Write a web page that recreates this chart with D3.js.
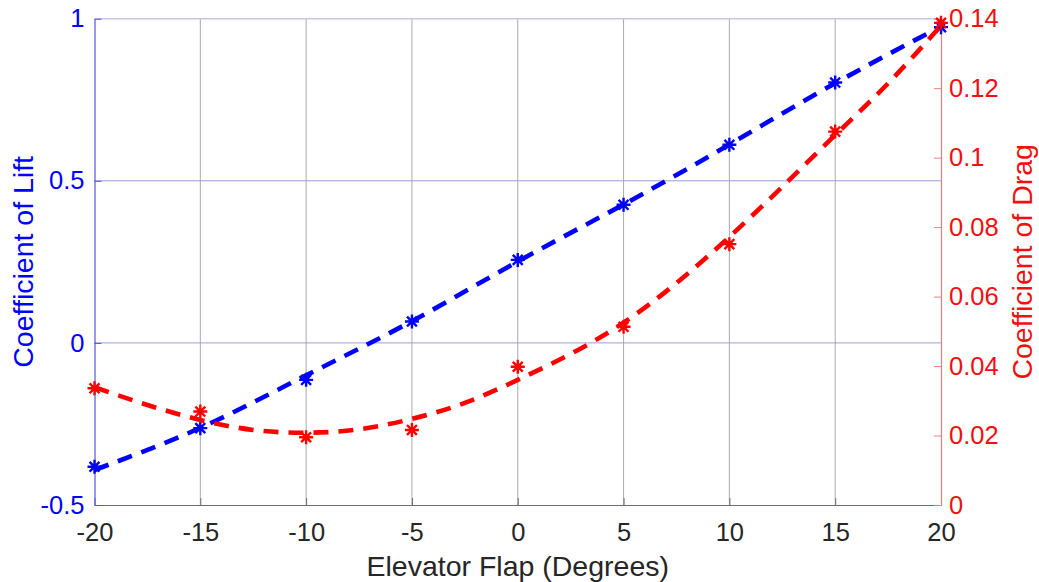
<!DOCTYPE html>
<html>
<head>
<meta charset="utf-8">
<script src="https://cdn.jsdelivr.net/npm/d3@7"></script>
<style>
  html, body { margin: 0; padding: 0; background: #ffffff; }
  svg { display: block; font-family: "Liberation Sans", Arial, Helvetica, sans-serif; }
</style>
</head>
<body>
<svg id="chart" width="1039" height="582"></svg>
<script>
// Elevator flap sweep: measured coefficients and their fitted trends
const flap = [-20, -15, -10, -5, 0, 5, 10, 15, 20];
const liftMeasured = [-0.382, -0.263, -0.114, 0.066, 0.256, 0.426, 0.611, 0.803, 0.974];
const dragMeasured = [0.0336, 0.0269, 0.0195, 0.0216, 0.0398, 0.0513, 0.0751, 0.1075, 0.1388];

// fitted trend curves
const liftFitFlap = [-20, -15, -10, -5, 0, 5, 10, 15, 20];
const liftFit = [-0.392, -0.262, -0.100, 0.067, 0.251, 0.427, 0.612, 0.801, 0.976];
const dragFitFlap = [-20, -17.5, -15, -12.5, -10, -7.5, -5, -2.5, 0, 2.5, 5, 7.5, 10, 12.5, 15, 17.5, 20];
const dragFit = [0.0339, 0.0288, 0.0245, 0.0216, 0.0208, 0.0218, 0.0248, 0.0294, 0.0360, 0.0435,
                 0.0525, 0.0639, 0.0772, 0.0916, 0.1065, 0.1214, 0.1380];

// axis ticks
const xTicks = [-20, -15, -10, -5, 0, 5, 10, 15, 20];
const xTickLabels = ["-20", "-15", "-10", "-5", "0", "5", "10", "15", "20"];
const liftTicks = [-0.5, 0, 0.5, 1];
const liftTickLabels = ["-0.5", "0", "0.5", "1"];
const dragTicks = [0, 0.02, 0.04, 0.06, 0.08, 0.1, 0.12, 0.14];
const dragTickLabels = ["0", "0.02", "0.04", "0.06", "0.08", "0.1", "0.12", "0.14"];

const BLUE = "#0000ff";
const RED = "#ff0000";
const DARK = "#262626";

const plot = { left: 94.5, right: 941, top: 18.7, bottom: 505 };
const svg = d3.select("#chart");

svg.append("rect").attr("width", 1039).attr("height", 582).attr("fill", "#ffffff");

const x = d3.scaleLinear().domain([-20, 20]).range([plot.left, plot.right]);
const yL = d3.scaleLinear().domain([-0.5, 1]).range([plot.bottom, plot.top]);
const yR = d3.scaleLinear().domain([0, 0.14]).range([plot.bottom, plot.top]);

// grid
const grid = svg.append("g");
grid.selectAll("line.v").data(xTicks.slice(1, -1)).join("line")
  .attr("x1", d => x(d)).attr("x2", d => x(d))
  .attr("y1", plot.top).attr("y2", plot.bottom)
  .attr("stroke", "#aaaaaa").attr("stroke-width", 1);
grid.selectAll("line.h").data(liftTicks.slice(1, -1)).join("line")
  .attr("x1", plot.left).attr("x2", plot.right)
  .attr("y1", d => yL(d)).attr("y2", d => yL(d))
  .attr("stroke", "#9c9cdc").attr("stroke-width", 1);

// top border
svg.append("line")
  .attr("x1", plot.left).attr("x2", plot.right)
  .attr("y1", plot.top).attr("y2", plot.top)
  .attr("stroke", "#c6c6ea").attr("stroke-width", 1.5);

function styleAxis(g, lineColor, textColor) {
  g.select(".domain").attr("stroke", lineColor).attr("stroke-width", 1.2);
  g.selectAll(".tick line").attr("stroke", lineColor).attr("stroke-width", 1);
  g.selectAll(".tick text").attr("fill", textColor).attr("font-size", 25.5)
    .attr("font-family", "'Liberation Sans', Arial, sans-serif");
}

const xAxis = svg.append("g")
  .attr("transform", `translate(0,${plot.bottom})`)
  .call(d3.axisBottom(x).tickValues(xTicks)
    .tickFormat((d, i) => xTickLabels[i])
    .tickSizeInner(-7).tickSizeOuter(0).tickPadding(18));
styleAxis(xAxis, "#6e6e6e", DARK);

const leftAxis = svg.append("g")
  .attr("transform", `translate(${plot.left},0)`)
  .call(d3.axisLeft(yL).tickValues(liftTicks)
    .tickFormat((d, i) => liftTickLabels[i])
    .tickSizeInner(-7).tickSizeOuter(0).tickPadding(10));
styleAxis(leftAxis, "#5656d8", BLUE);

const rightAxis = svg.append("g")
  .attr("transform", `translate(${plot.right},0)`)
  .call(d3.axisRight(yR).tickValues(dragTicks)
    .tickFormat((d, i) => dragTickLabels[i])
    .tickSizeInner(-7).tickSizeOuter(0).tickPadding(8));
styleAxis(rightAxis, "#e48080", "#f01010");

// asterisk marker: plus and cross overlaid
function asterisk(r) {
  const p = d3.path();
  const k = r * Math.SQRT1_2;
  p.moveTo(-r, 0); p.lineTo(r, 0);
  p.moveTo(0, -r); p.lineTo(0, r);
  p.moveTo(-k, -k); p.lineTo(k, k);
  p.moveTo(-k, k); p.lineTo(k, -k);
  return p.toString();
}

function drawSeries(fx, fy, px, py, yScale, color) {
  const line = d3.line().x(d => x(d[0])).y(d => yScale(d[1])).curve(d3.curveNatural);
  svg.append("path")
    .datum(fx.map((v, i) => [v, fy[i]]))
    .attr("d", line)
    .attr("fill", "none")
    .attr("stroke", color)
    .attr("stroke-width", 4.6)
    .attr("stroke-dasharray", "15,10");
  svg.append("g").selectAll("path").data(px.map((v, i) => [v, py[i]])).join("path")
    .attr("transform", d => `translate(${x(d[0])},${yScale(d[1])})`)
    .attr("d", asterisk(7))
    .attr("fill", "none")
    .attr("stroke", color)
    .attr("stroke-width", 2.4);
}

drawSeries(liftFitFlap, liftFit, flap, liftMeasured, yL, BLUE);
drawSeries(dragFitFlap, dragFit, flap, dragMeasured, yR, RED);

// axis titles
const midY = (plot.top + plot.bottom) / 2;
svg.append("text")
  .attr("x", (plot.left + plot.right) / 2).attr("y", 576)
  .attr("text-anchor", "middle").attr("font-size", 28.5).attr("fill", DARK)
  .text("Elevator Flap (Degrees)");
svg.append("text")
  .attr("transform", `translate(33,${midY}) rotate(-90)`)
  .attr("text-anchor", "middle").attr("font-size", 28.5).attr("fill", BLUE)
  .text("Coefficient of Lift");
svg.append("text")
  .attr("transform", `translate(1032,${midY}) rotate(-90)`)
  .attr("text-anchor", "middle").attr("font-size", 28.5).attr("fill", "#f01010")
  .text("Coefficient of Drag");
</script>
</body>
</html>
